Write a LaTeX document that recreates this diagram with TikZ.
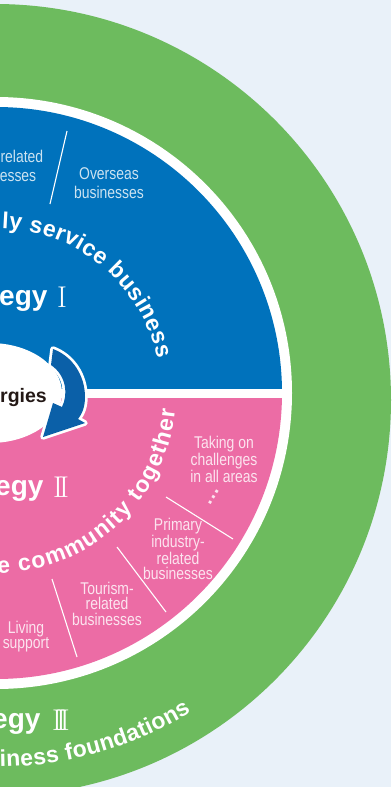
\documentclass[tikz,border=0pt]{standalone}
\usepackage{fontspec}
\newfontfamily\sansf{Liberation Sans}
\newfontfamily\narrowf[FakeStretch=0.82]{Liberation Sans}
\usetikzlibrary{decorations.text}
\definecolor{bgc}{HTML}{E9F1F9}
\definecolor{grn}{HTML}{6DBB5E}
\definecolor{blu}{HTML}{0072BC}
\definecolor{pnk}{HTML}{EC6CA5}
\definecolor{arw}{HTML}{0B60A8}
\definecolor{ink}{HTML}{231815}
\begin{document}
\begin{tikzpicture}[x=1pt,y=-1pt,
  lblb/.style={inner sep=0pt, align=center, text=white!80!blu, font=\narrowf\fontsize{17}{19}\selectfont},
  lblp/.style={inner sep=0pt, align=center, text=white!82!pnk, font=\narrowf\fontsize{17}{15.5}\selectfont},
  bigt/.style={inner sep=0pt, anchor=base west, text=white, font=\sansf\bfseries\fontsize{28}{28}\selectfont},
  numt/.style={inner sep=0pt, anchor=base west, text=white, font=\rmfamily\fontsize{30}{30}\selectfont},
  sepline/.style={white, line width=1.1pt},
  arctext/.style={decorate, decoration={text along path, text color=white, text align={fit to path},
     text={|\sansf\bfseries\fontsize{23}{23}\selectfont|#1}}}
]
\useasboundingbox (0,0) rectangle (391,787);
\begin{scope}
\clip (0,0) rectangle (391,787);
\fill[bgc] (0,0) rectangle (391,787);
\coordinate (ctr) at (-4,393);
\coordinate (gctr) at (-5,400);
\fill[grn] (gctr) circle[radius=396pt];
\fill[white] (ctr) circle[radius=296pt];
\begin{scope}
  \clip (-400,0) rectangle (400,388);
  \fill[blu] (ctr) circle[radius=286pt];
\end{scope}
\begin{scope}
  \clip (-400,398) rectangle (400,800);
  \fill[pnk] (ctr) circle[radius=286pt];
\end{scope}

% separator lines
\draw[sepline] (67,131) -- (50,204);
\draw[sepline] (166,497) -- (233,539);
\draw[sepline] (117,547) -- (166,612);
\draw[sepline] (52,579) -- (77,657);

% centre ellipse and arrow
\fill[white] (-10,393) ellipse[x radius=72pt, y radius=50pt];
\node[inner sep=0pt, anchor=base east, text=ink, font=\sansf\bfseries\fontsize{19.5}{20}\selectfont] (syn) at (47,402) {rgies};
\path[preaction={draw=white, line width=5.5pt, line join=round}, fill=arw]
  (53,349) .. controls (72,356) and (85,375) .. (85,397)
  .. controls (85,407) and (82,414) .. (78,419) -- (85,423) -- (43,437) -- (53,403) -- (62,407)
  .. controls (68,395) and (67,376) .. (51,365) -- cycle;

% strategy titles
\node[bigt] (s1) at (-1,305) {egy};
\node[numt] (n1) at (57,307) {I};
\node[bigt] (s2) at (-5,495) {egy};
\node[numt] (n2) at (53,497) {I\kern-4pt I};
\node[bigt] (s3) at (-8,728) {egy};
\node[numt] (n3) at (52,730) {I\kern-6pt I\kern-6pt I};

% curved texts
\path[arctext={ly service business}] ([shift={(-88:165)}]ctr) arc[start angle=-88, end angle=-12, radius=165];
\path[arctext={e community together}] ([shift={(89.5:180)}]ctr) arc[start angle=89.5, end angle=5.4, radius=180];
\path[arctext={iness foundations}] ([shift={(89.4:374)}]ctr) arc[start angle=89.4, end angle=58.5, radius=374];

% business labels
\node[lblb, align=right, anchor=north east] (b1) at (43.4,149.8) {related\\esses\kern7pt};
\node[lblb, anchor=north] (b2) at (109,167.8) {Overseas\\businesses};
\node[lblp, anchor=north] (p1) at (224,435.8) {Taking on\\challenges\\in all areas};
\node[inner sep=0pt, rotate=59, text=white!82!pnk, font=\sansf\bfseries\fontsize{20}{20}\selectfont] (dots) at (213.5,497) {…};
\node[lblp, anchor=north] (p2) at (178,517.8) {Primary\\industry-\\related\\businesses};
\node[lblp, anchor=north] (p3) at (107,581.8) {Tourism-\\related\\businesses};
\node[lblp, anchor=north] (p4) at (26,620.8) {Living\\support};
\end{scope}
\end{tikzpicture}
\end{document}
